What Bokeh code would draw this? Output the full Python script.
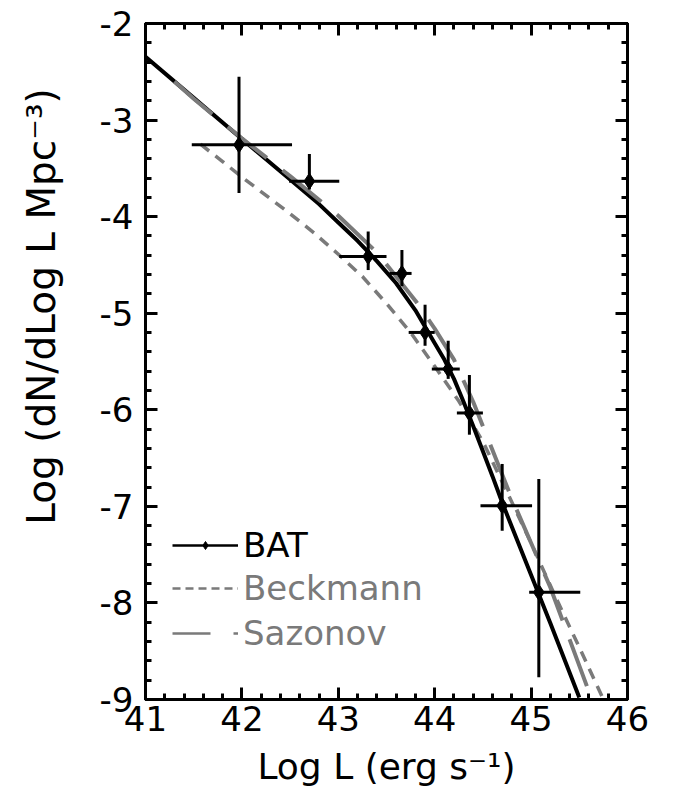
from bokeh.plotting import figure
from bokeh.models import (Range1d, LinearAxis, SingleIntervalTicker, CustomJSTickFormatter,
                          Legend, LegendItem)
from bokeh.embed import file_html
from bokeh.resources import INLINE

# ---- BAT binned luminosity function (log L, log phi) with bin widths and errors ----
bat_logL = [41.97, 42.70, 43.31, 43.66, 43.90, 44.14, 44.36, 44.70, 45.08]
bat_logphi = [-3.256, -3.633, -4.412, -4.588, -5.199, -5.578, -6.033, -6.993, -7.890]
bat_L_lo = [41.48, 42.49, 43.01, 43.53, 43.73, 43.97, 44.23, 44.475, 44.98]
bat_L_hi = [42.52, 43.01, 43.50, 43.76, 44.00, 44.26, 44.50, 45.01, 45.51]
bat_phi_lo = [-3.756, -3.720, -4.553, -4.720, -5.337, -5.680, -6.258, -7.252, -8.770]
bat_phi_hi = [-2.552, -3.352, -4.153, -4.346, -4.912, -5.285, -5.640, -6.561, -6.716]

# ---- BAT fitted broken power law ----
batfit_logL = [41.0, 41.5, 42.0, 42.5, 42.8, 43.0, 43.2, 43.4, 43.6, 43.8, 43.9, 44.0,
               44.1, 44.2, 44.3, 44.4, 44.5, 44.6, 44.7, 44.8, 45.0, 45.2, 45.5]
batfit_logphi = [-2.345, -2.770, -3.195, -3.615, -3.870, -4.060, -4.250, -4.460, -4.690,
                 -4.970, -5.140, -5.310, -5.480, -5.680, -5.920, -6.170, -6.430, -6.690,
                 -6.960, -7.210, -7.710, -8.210, -8.980]

# ---- Beckmann et al. luminosity function ----
beck_logL = [41.57, 41.8, 42.0, 42.25, 42.5, 42.75, 43.0, 43.25, 43.5, 43.75, 44.0,
             44.25, 44.5, 44.75, 45.0, 45.25, 45.5, 45.75]
beck_logphi = [-3.25, -3.43, -3.59, -3.78, -3.97, -4.17, -4.39, -4.62, -4.90, -5.20,
               -5.55, -5.91, -6.33, -6.85, -7.38, -7.93, -8.46, -9.00]

# ---- Sazonov et al. luminosity function ----
saz_logL = [41.3, 41.5, 42.0, 42.5, 43.0, 43.4, 43.8, 44.0, 44.2, 44.4, 44.6, 44.8,
            45.0, 45.2, 45.4, 45.63]
saz_logphi = [-2.60, -2.78, -3.19, -3.58, -3.99, -4.37, -4.87, -5.16, -5.48, -5.92,
              -6.42, -6.92, -7.38, -7.84, -8.38, -9.00]

FONT = "DejaVu Sans"
GRAY = "#7a7a7a"
NAN = float("nan")

p = figure(width=673, height=789, x_range=Range1d(41, 46), y_range=Range1d(-9, -2),
           output_backend="svg", toolbar_location=None,
           x_axis_location=None, y_axis_location=None,
           min_border_left=145, min_border_right=46, min_border_top=23, min_border_bottom=90)
p.grid.visible = False
p.outline_line_color = "black"
p.outline_line_width = 3
p.background_fill_color = "white"
p.border_fill_color = "white"

# plain hyphen for negative tick values
hyphen_fmt = CustomJSTickFormatter(code="return String(tick).replace('\u2212', '-');")


def framed_axis(show_labels, standoff):
    ax = LinearAxis(ticker=SingleIntervalTicker(interval=1, num_minor_ticks=5))
    ax.major_tick_in = 12
    ax.major_tick_out = 0
    ax.minor_tick_in = 6
    ax.minor_tick_out = 0
    ax.major_tick_line_width = 3
    ax.minor_tick_line_width = 3
    ax.axis_line_width = 3
    ax.major_label_standoff = standoff
    ax.major_label_text_font = FONT
    ax.major_label_text_font_size = "34px"
    ax.major_label_text_color = "black"
    ax.axis_label_text_font = FONT
    ax.axis_label_text_font_size = "36px"
    ax.axis_label_text_font_style = "normal"
    ax.axis_label_text_color = "black"
    if show_labels:
        ax.formatter = hyphen_fmt
    else:
        ax.formatter = CustomJSTickFormatter(code="return ''")
        ax.major_label_standoff = 0
    return ax


x_axis = framed_axis(True, 6)
x_axis.axis_label = "Log L (erg s\u207b\u00b9)"
x_axis.axis_label_standoff = 12
y_axis = framed_axis(True, 12)
# leading spaces lift the centred title towards the upper part of the axis
y_axis.axis_label = "\u2002" * 5 + "\u00a0" + "Log (dN/dLog L Mpc\u207b\u00b3)"
y_axis.axis_label_text_font_size = "39px"
y_axis.axis_label_standoff = 33
p.add_layout(x_axis, "below")
p.add_layout(y_axis, "left")
p.add_layout(framed_axis(False, 0), "above")
p.add_layout(framed_axis(False, 0), "right")

# model curves
p.line(beck_logL, beck_logphi, line_color=GRAY, line_width=3.5, line_dash="11 8")
p.line(batfit_logL, batfit_logphi, line_color="black", line_width=4)
p.line(saz_logL, saz_logphi, line_color=GRAY, line_width=4, line_dash="50 20")

# BAT points with error bars
p.segment(x0=bat_L_lo, y0=bat_logphi, x1=bat_L_hi, y1=bat_logphi,
          line_color="black", line_width=3)
p.segment(x0=bat_logL, y0=bat_phi_lo, x1=bat_logL, y1=bat_phi_hi,
          line_color="black", line_width=3)
p.scatter(bat_logL, bat_logphi, marker="diamond", size=16, color="black")

# legend swatches (not shown in the data area)
leg_bat_line = p.line([NAN], [NAN], line_color="black", line_width=2.5)
leg_bat_mark = p.scatter([NAN], [NAN], marker="diamond", size=11, color="black")
leg_beck = p.line([NAN], [NAN], line_color=GRAY, line_width=2.5, line_dash="8 5")
leg_saz = p.line([NAN], [NAN], line_color=GRAY, line_width=2.5, line_dash="38 23")


def make_legend(items, loc, color):
    lg = Legend(items=items, location=loc)
    lg.glyph_width = 66
    lg.glyph_height = 20
    lg.label_standoff = 5
    lg.label_text_font = FONT
    lg.label_text_font_size = "34px"
    lg.label_text_color = color
    lg.label_height = 40
    lg.spacing = 5
    lg.padding = 0
    lg.margin = 0
    lg.border_line_color = None
    lg.background_fill_alpha = 0
    return lg


p.add_layout(make_legend([LegendItem(label="BAT", renderers=[leg_bat_line, leg_bat_mark])],
                         (27, 134), "black"), "center")
p.add_layout(make_legend([LegendItem(label="Beckmann", renderers=[leg_beck]),
                          LegendItem(label="Sazonov", renderers=[leg_saz])],
                         (27, 46), GRAY), "center")

open("out.html", "w").write(file_html(p, INLINE))
